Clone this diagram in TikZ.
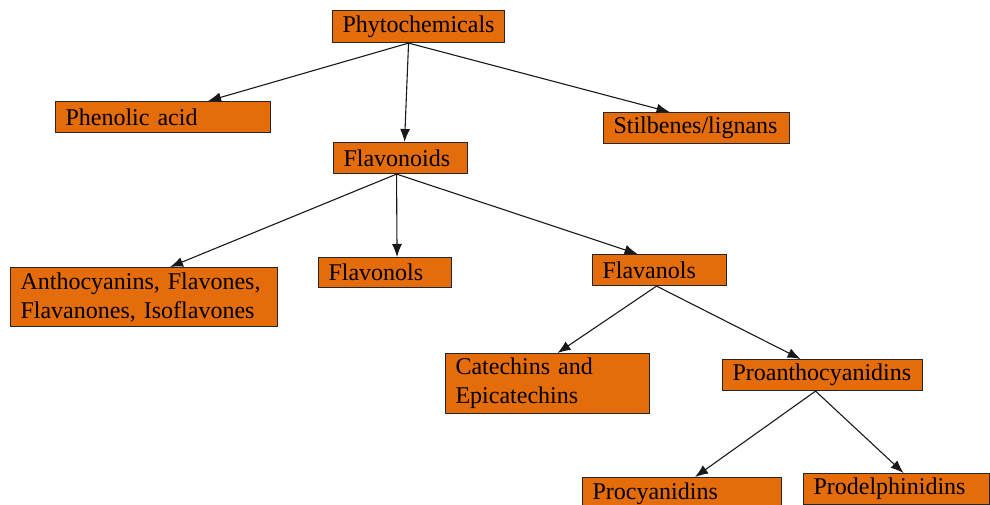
\documentclass[tikz,border=0pt]{standalone}
\usepackage{fontspec}
\setmainfont{Liberation Serif}
\newfontfamily\boxfont{Liberation Serif}
\usetikzlibrary{arrows.meta}
\definecolor{boxorange}{HTML}{E46C0A}

\begin{document}
\begin{tikzpicture}[x=1pt, y=-1pt,
    box/.style={draw=black!85, line width=1.1pt, fill=boxorange, anchor=north west,
      inner xsep=10pt, inner ysep=0pt, align=left, font=\boxfont\fontsize{24}{29}\selectfont},
    arr/.style={-{Latex[length=13pt,width=10pt]}, line width=1.1pt, draw=black!90}]
  \useasboundingbox (0, 0) rectangle (990, 505);
  \node[box, text width=152pt, minimum height=32pt] (phyto) at (332, 10) {Phytochemicals};
  \node[box, text width=195pt, minimum height=31pt] (phenolic) at (55, 101) {Phenolic acid};
  \node[box, text width=166pt, minimum height=31pt] (stilb) at (603, 112) {Stilbenes/lignans};
  \node[box, text width=114pt, minimum height=31pt] (flavonoids) at (333, 142) {Flavonoids};
  \node[box, text width=247pt, minimum height=59pt] (antho) at (10, 267) {Anthocyanins, Flavones,\\Flavanones, Isoflavones};
  \node[box, text width=113pt, minimum height=30pt] (flavonols) at (318, 257) {Flavonols};
  \node[box, text width=114pt, minimum height=31pt] (flavanols) at (592, 254) {Flavanols};
  \node[box, text width=184pt, minimum height=60pt] (catech) at (445, 353) {Catechins and\\Epicatechins};
  \node[box, text width=180pt, minimum height=31pt] (proantho) at (722, 359) {Proanthocyanidins};
  \node[box, text width=179pt, minimum height=32pt] (procy) at (582, 477) {Procyanidins};
  \node[box, text width=166pt, minimum height=31pt] (prodel) at (803, 473) {Prodelphinidins};
  % arrows
  \draw[arr] ([xshift=-10pt]phyto.south) -- ([xshift=45pt]phenolic.north);
  \draw[arr] ([xshift=-10pt]phyto.south) -- ([xshift=4pt]flavonoids.north);
  \draw[arr] ([xshift=-10pt]phyto.south) -- ([xshift=-27pt]stilb.north);
  \draw[arr] ([xshift=-4pt]flavonoids.south) -- ([xshift=26pt]antho.north);
  \draw[arr] ([xshift=-4pt]flavonoids.south) -- ([xshift=12pt]flavonols.north);
  \draw[arr] ([xshift=-4pt]flavonoids.south) -- ([xshift=-22pt]flavanols.north);
  \draw[arr] ([xshift=-3pt]flavanols.south) -- ([xshift=10pt]catech.north);
  \draw[arr] ([xshift=-3pt]flavanols.south) -- ([xshift=-22pt]proantho.north);
  \draw[arr] ([xshift=-7pt]proantho.south) -- ([xshift=13pt]procy.north);
  \draw[arr] ([xshift=-7pt]proantho.south) -- ([xshift=7pt]prodel.north);
\end{tikzpicture}
\end{document}
